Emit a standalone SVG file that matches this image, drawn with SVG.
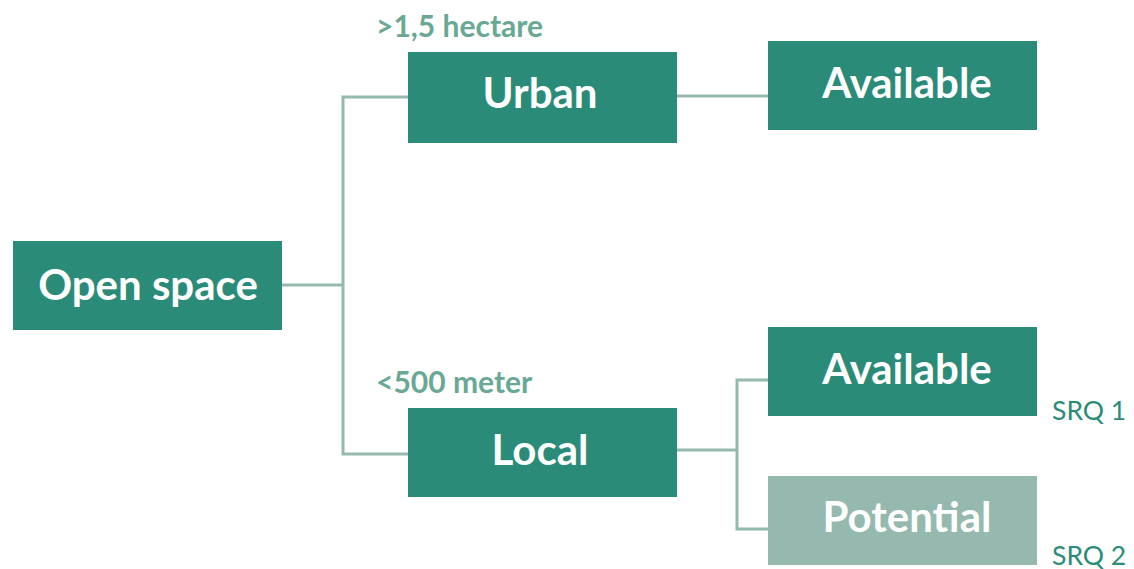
<svg xmlns="http://www.w3.org/2000/svg" width="1134" height="569" viewBox="0 0 1134 569">
  <style>
    .box { fill: #2a8c78; }
    .box.light { fill: #95b9ae; }
    .name { font-family: Lato, "Open Sans", sans-serif; font-weight: bold; font-size: 42px; fill: #ffffff; text-anchor: middle; }
    .note { font-family: Lato, "Open Sans", sans-serif; font-weight: bold; font-size: 30px; fill: #6aa896; }
    .srq { font-family: Lato, "Open Sans", sans-serif; font-size: 26.5px; fill: #2a8c78; }
    .link { fill: none; stroke: #95b9ae; stroke-width: 3; }
  </style>

  <!-- connectors -->
  <g id="connectors">
    <polyline class="link" points="282,285 343,285"/>
    <polyline class="link" points="408,97 343,97 343,454 408,454"/>
    <polyline class="link" points="677,96 768,96"/>
    <polyline class="link" points="677,450 737,450"/>
    <polyline class="link" points="768,380 737,380 737,529 768,529"/>
  </g>

  <g id="open-space">
    <rect class="box" x="13" y="241" width="269" height="89"/>
    <text class="name" x="148" y="300">Open space</text>
  </g>

  <g id="urban">
    <rect class="box" x="408" y="52" width="269" height="91"/>
    <text class="name" x="540" y="108">Urban</text>
    <text class="note" x="376" y="37">&gt;1,5 hectare</text>
  </g>

  <g id="urban-available">
    <rect class="box" x="768" y="41" width="269" height="89"/>
    <text class="name" x="907" y="98">Available</text>
  </g>

  <g id="local">
    <rect class="box" x="408" y="408" width="269" height="89"/>
    <text class="name" x="540" y="465">Local</text>
    <text class="note" x="376" y="393">&lt;500 meter</text>
  </g>

  <g id="local-available">
    <rect class="box" x="768" y="327" width="269" height="89"/>
    <text class="name" x="907" y="384">Available</text>
    <text class="srq" x="1052" y="420">SRQ 1</text>
  </g>

  <g id="local-potential">
    <rect class="box light" x="768" y="476" width="269" height="89"/>
    <text class="name" x="907" y="532">Potential</text>
    <text class="srq" x="1052" y="565">SRQ 2</text>
  </g>
</svg>
